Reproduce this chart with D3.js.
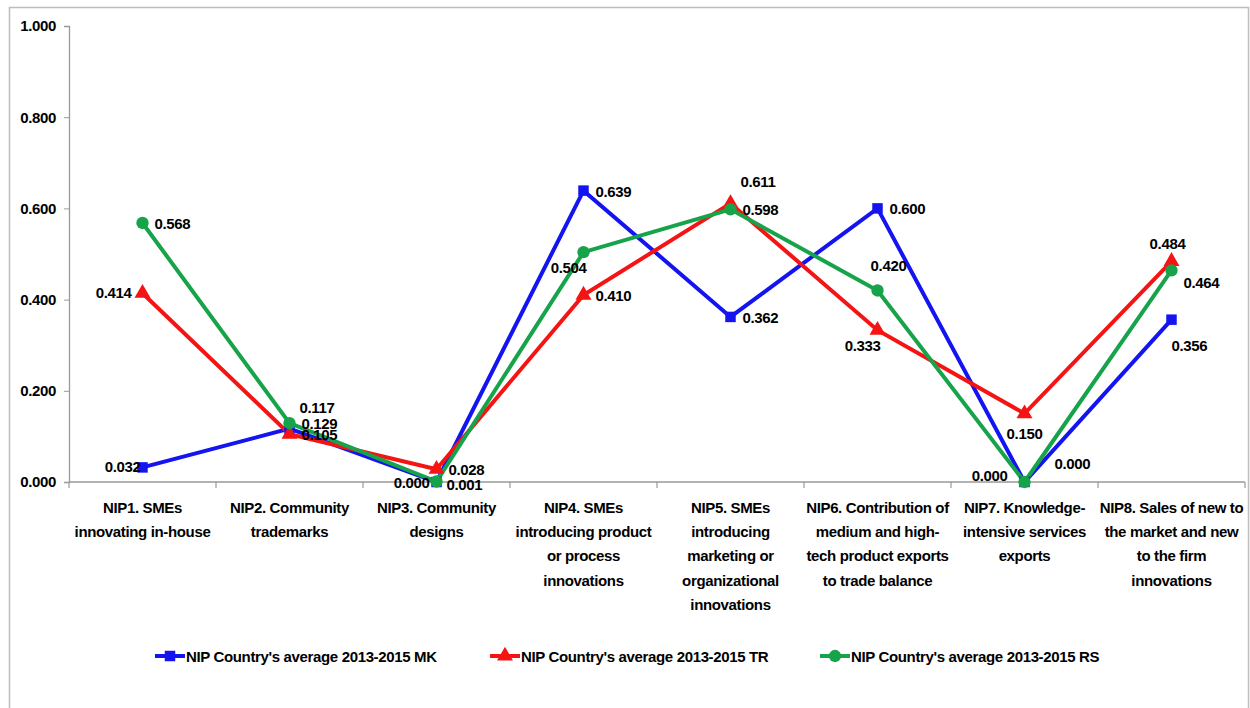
<!DOCTYPE html>
<html>
<head>
<meta charset="utf-8">
<script src="https://cdnjs.cloudflare.com/ajax/libs/d3/7.8.5/d3.min.js"></script>
<style>
  html, body { margin: 0; padding: 0; background: #fff; }
  svg { display: block; }
  text { font-family: "Liberation Sans Narrow", "Arial Narrow", "Liberation Sans", sans-serif; font-weight: bold; fill: #000; letter-spacing: -0.35px; }
</style>
</head>
<body>
<svg id="chart" width="1250" height="708"></svg>
<script>
// Indicator names (wrapped into lines as shown under the axis)
const categories = [
  ["NIP1. SMEs", "innovating in-house"],
  ["NIP2. Community", "trademarks"],
  ["NIP3. Community", "designs"],
  ["NIP4. SMEs", "introducing product", "or process", "innovations"],
  ["NIP5. SMEs", "introducing", "marketing or", "organizational", "innovations"],
  ["NIP6. Contribution of", "medium and high-", "tech product exports", "to trade balance"],
  ["NIP7. Knowledge-", "intensive services", "exports"],
  ["NIP8. Sales of new to", "the market and new", "to the firm", "innovations"]
];

const seriesNames = [
  "NIP Country's average 2013-2015 MK",
  "NIP Country's average 2013-2015 TR",
  "NIP Country's average 2013-2015 RS"
];

const valuesMK = [0.032, 0.117, 0.000, 0.639, 0.362, 0.600, 0.000, 0.356];
const valuesTR = [0.414, 0.105, 0.028, 0.410, 0.611, 0.333, 0.150, 0.484];
const valuesRS = [0.568, 0.129, 0.001, 0.504, 0.598, 0.420, 0.000, 0.464];

const yTicks = [0, 0.2, 0.4, 0.6, 0.8, 1.0];

// Where each value label sits relative to its point
const placeMK = ["leftNear", "aboveRight", "left", "right", "right", "right", "rightHigh", "belowRight"];
const placeTR = ["leftFar", "right", "right", "right", "aboveRight", "belowLeft", "below", "above"];
const placeRS = ["right", "right", "rightLow", "belowLeft", "right", "aboveShift", "leftFar2", "belowRightNear"];

const series = [
  { name: seriesNames[0], values: valuesMK, color: "#1414f0", symbol: d3.symbolSquare, size: 110, place: placeMK },
  { name: seriesNames[1], values: valuesTR, color: "#f51414", symbol: d3.symbolTriangle, size: 110, place: placeTR },
  { name: seriesNames[2], values: valuesRS, color: "#17a34a", symbol: d3.symbolCircle, size: 120, place: placeRS }
];

const svg = d3.select("#chart");

// outer frame
svg.append("rect")
  .attr("x", 9.5).attr("y", 7.5).attr("width", 1239).attr("height", 720)
  .attr("fill", "none").attr("stroke", "#bdbdbd").attr("stroke-width", 1.5);

const plot = { left: 69, right: 1245, top: 26, bottom: 482 };

const x = d3.scaleBand()
  .domain(d3.range(categories.length))
  .range([plot.left, plot.right]);

const y = d3.scaleLinear().domain([0, 1]).range([plot.bottom, plot.top]);

// y axis
const yAxis = svg.append("g")
  .attr("transform", `translate(${plot.left},0)`)
  .call(d3.axisLeft(y).tickValues(yTicks).tickFormat(d3.format(".3f")).tickSize(5).tickPadding(8));
yAxis.select(".domain").attr("stroke", "#999").attr("stroke-width", 1.3);
yAxis.selectAll(".tick line").attr("stroke", "#999");
yAxis.selectAll(".tick text").style("font-size", "15px").attr("fill", "#000");

// x axis (tick marks at category boundaries)
const xg = svg.append("g").attr("transform", `translate(0,${plot.bottom})`);
xg.append("line")
  .attr("x1", plot.left).attr("x2", plot.right)
  .attr("stroke", "#999").attr("stroke-width", 1.3);
xg.selectAll("line.tk")
  .data(d3.range(categories.length + 1))
  .join("line").attr("class", "tk")
  .attr("x1", i => plot.left + i * x.step()).attr("x2", i => plot.left + i * x.step())
  .attr("y1", 0).attr("y2", 6).attr("stroke", "#999").attr("stroke-width", 1.2);

const catLabels = svg.append("g");
categories.forEach((lines, i) => {
  const t = catLabels.append("text")
    .attr("text-anchor", "middle")
    .attr("x", x(i) + x.bandwidth() / 2)
    .attr("y", 513)
    .style("font-size", "15px");
  lines.forEach((ln, k) => {
    t.append("tspan")
      .attr("x", x(i) + x.bandwidth() / 2)
      .attr("dy", k === 0 ? 0 : 24.2)
      .text(ln);
  });
});

const cx = i => x(i) + x.bandwidth() / 2;
const line = d3.line().x((d, i) => cx(i)).y(d => y(d));

// series lines
series.forEach(s => {
  svg.append("path")
    .datum(s.values)
    .attr("d", line)
    .attr("fill", "none")
    .attr("stroke", s.color)
    .attr("stroke-width", 4)
    .attr("stroke-linejoin", "miter");
});

// markers
series.forEach(s => {
  svg.append("g").selectAll("path")
    .data(s.values)
    .join("path")
    .attr("transform", (d, i) => `translate(${cx(i)},${y(d)})`)
    .attr("d", d3.symbol().type(s.symbol).size(s.size))
    .attr("fill", s.color);
});

// value labels
const offsets = {
  left:           { dx: -7,  dy: 6,   anchor: "end" },
  leftNear:       { dx: -2,  dy: 5,   anchor: "end" },
  leftFar:        { dx: -11, dy: 5,   anchor: "end" },
  leftFar2:       { dx: -17, dy: -1,  anchor: "end" },
  right:          { dx: 12,  dy: 6,   anchor: "start" },
  rightLow:       { dx: 10,  dy: 8,   anchor: "start" },
  rightHigh:      { dx: 30,  dy: -13, anchor: "start" },
  aboveRight:     { dx: 10,  dy: -16, anchor: "start" },
  belowRight:     { dx: 0,   dy: 31,  anchor: "start" },
  belowRightNear: { dx: 12,  dy: 18,  anchor: "start" },
  belowLeft:      { dx: 3,   dy: 21,  anchor: "end" },
  above:          { dx: -4,  dy: -12, anchor: "middle" },
  aboveShift:     { dx: 11,  dy: -19, anchor: "middle" },
  below:          { dx: 0,   dy: 25,  anchor: "middle" }
};

series.forEach(s => {
  svg.append("g").selectAll("text")
    .data(s.values)
    .join("text")
    .attr("x", (d, i) => cx(i) + offsets[s.place[i]].dx)
    .attr("y", (d, i) => y(d) + offsets[s.place[i]].dy)
    .attr("text-anchor", (d, i) => offsets[s.place[i]].anchor)
    .style("font-size", "15px")
    .text(d => d3.format(".3f")(d));
});

// legend
const legendX = [155, 490, 820];
const legend = svg.append("g").attr("transform", "translate(0,656)");
series.forEach((s, i) => {
  const g = legend.append("g").attr("transform", `translate(${legendX[i]},0)`);
  g.append("line").attr("x1", 0).attr("x2", 30)
    .attr("stroke", s.color).attr("stroke-width", 4);
  g.append("path")
    .attr("transform", "translate(15,0)")
    .attr("d", d3.symbol().type(s.symbol).size(s.size))
    .attr("fill", s.color);
  g.append("text").attr("x", 31).attr("y", 5.5)
    .style("font-size", "15px")
    .text(s.name);
});
</script>
</body>
</html>
